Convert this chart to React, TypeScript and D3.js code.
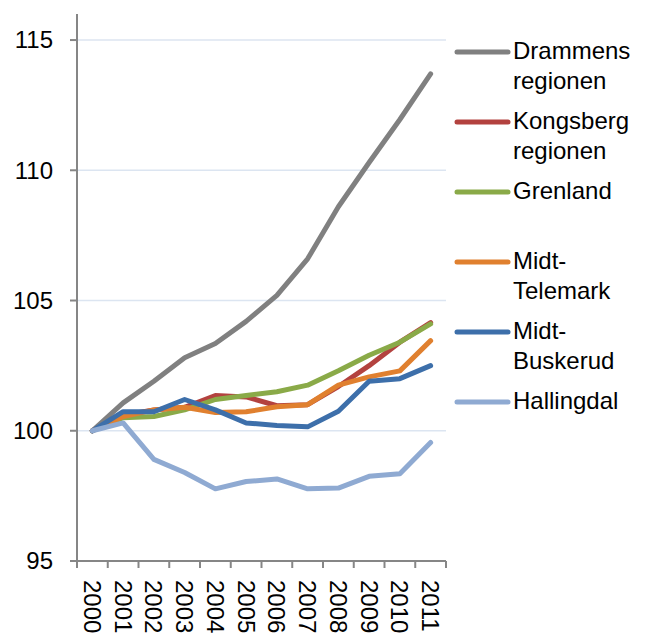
import React from "react";
import * as d3 from "d3";

const years = ["2000","2001","2002","2003","2004","2005","2006","2007","2008","2009","2010","2011"];
const yTicks = [95, 100, 105, 110, 115];
const gridTicks = [100, 105, 110, 115];

const seriesNames = ["Drammens regionen", "Kongsberg regionen", "Grenland", "Midt-Telemark", "Midt-Buskerud", "Hallingdal"];
const legendLines = [["Drammens", "regionen"], ["Kongsberg", "regionen"], ["Grenland"], ["Midt-", "Telemark"], ["Midt-", "Buskerud"], ["Hallingdal"]];
const seriesColors = ["#808080", "#B3423F", "#8AAA48", "#E0802F", "#3D6FAA", "#8FAAD2"];

const drammens = [100, 101.07, 101.9, 102.8, 103.35, 104.2, 105.2, 106.6, 108.6, 110.3, 111.95, 113.7];
const kongsberg = [100, 100.6, 100.8, 100.9, 101.35, 101.3, 100.96, 101.0, 101.7, 102.5, 103.4, 104.15];
const grenland = [100, 100.5, 100.55, 100.8, 101.2, 101.35, 101.5, 101.75, 102.3, 102.9, 103.4, 104.1];
const midtTelemark = [100, 100.55, 100.8, 100.9, 100.7, 100.73, 100.92, 101.0, 101.75, 102.07, 102.3, 103.46];
const midtBuskerud = [100, 100.73, 100.73, 101.2, 100.8, 100.3, 100.2, 100.15, 100.75, 101.9, 102.0, 102.5];
const hallingdal = [100, 100.3, 98.9, 98.4, 97.77, 98.05, 98.15, 97.77, 97.8, 98.25, 98.35, 99.55];

const seriesValues = [drammens, kongsberg, grenland, midtTelemark, midtBuskerud, hallingdal];

const FONT = "'Liberation Sans', Arial, sans-serif";

export default function App() {
  const left = 77, right = 446, top = 14, bottom = 561;
  const x = d3.scaleBand<string>().domain(years).range([left, right]).padding(0);
  const y = d3.scaleLinear().domain([95, 116]).range([bottom, top]);
  const cx = (yr: string) => (x(yr) ?? 0) + x.bandwidth() / 2;
  const line = d3.line<number>()
    .x((_, i) => cx(years[i]))
    .y((v) => y(v));
  const tickXs = years.map((yr) => x(yr) ?? 0).concat([right]);

  return (
    <div style={{ position: "fixed", left: 0, top: 0 }}>
      <svg width={645} height={637} style={{ display: "block", background: "#fff" }} fontFamily={FONT}>
        {gridTicks.map((t) => (
          <line key={"g" + t} x1={left} x2={right} y1={y(t)} y2={y(t)} stroke="#DCE5F1" strokeWidth={1.5} />
        ))}
        {/* y axis */}
        <line x1={left} x2={left} y1={top} y2={bottom} stroke="#868686" strokeWidth={2} />
        {yTicks.map((t) => (
          <g key={"yt" + t}>
            <line x1={left - 7} x2={left} y1={y(t)} y2={y(t)} stroke="#868686" strokeWidth={2} />
            <text x={53} y={y(t)} dy="0.35em" textAnchor="end" fontSize={24} fill="#000">{t}</text>
          </g>
        ))}
        {/* x axis */}
        <line x1={left} x2={right} y1={bottom} y2={bottom} stroke="#868686" strokeWidth={2} />
        {tickXs.map((tx, i) => (
          <line key={"xt" + i} x1={tx} x2={tx} y1={bottom} y2={bottom + 7} stroke="#868686" strokeWidth={2} />
        ))}
        {years.map((yr) => (
          <text key={"xl" + yr} transform={`translate(${cx(yr)},${580}) rotate(90)`} dy="0.35em" fontSize={24} fill="#000">{yr}</text>
        ))}
        {/* series */}
        {seriesValues.map((vals, i) => (
          <path key={"s" + i} d={line(vals) ?? ""} fill="none" stroke={seriesColors[i]} strokeWidth={5}
            strokeLinejoin="round" strokeLinecap="round" />
        ))}
        {/* legend */}
        {seriesNames.map((name, i) => {
          const ly = 52 + 70 * i;
          return (
            <g key={"l" + i}>
              <line x1={457} x2={508} y1={ly} y2={ly} stroke={seriesColors[i]} strokeWidth={5} strokeLinecap="round" />
              {legendLines[i].map((t, j) => (
                <text key={j} x={513} y={ly + 7 + j * 30} fontSize={24} fill="#000">{t}</text>
              ))}
            </g>
          );
        })}
      </svg>
    </div>
  );
}
